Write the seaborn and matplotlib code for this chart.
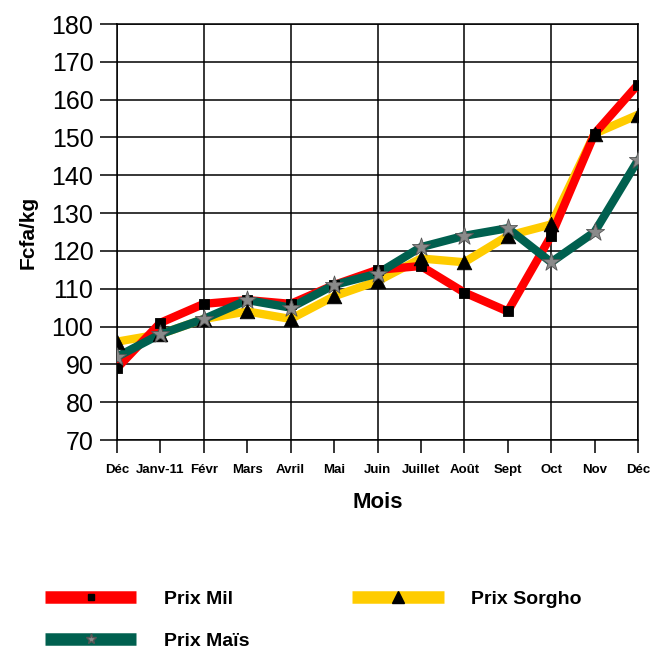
import pandas as pd
import matplotlib.pyplot as plt
import seaborn as sns

# Data
mois = ["Déc", "Janv-11", "Févr", "Mars", "Avril", "Mai", "Juin",
        "Juillet", "Août", "Sept", "Oct", "Nov", "Déc"]
prix_mil = [89, 101, 106, 107, 106, 111, 115, 116, 109, 104, 124, 151, 164]
prix_sorgho = [96, 98, 102, 104, 102, 108, 112, 118, 117, 124, 127, 151, 156]
prix_mais = [92, 98, 102, 107, 105, 111, 114, 121, 124, 126, 117, 125, 144]

FONT = ["Liberation Sans", "DejaVu Sans"]

sns.set_style("white")
plt.rcParams["font.family"] = FONT
plt.rcParams["text.color"] = "black"
plt.rcParams["axes.labelcolor"] = "black"
plt.rcParams["xtick.color"] = "black"
plt.rcParams["ytick.color"] = "black"

x = list(range(len(mois)))
series = [
    ("Prix Sorgho", prix_sorgho, "#FFCC00", "^", 110, "black", "black", 2),
    ("Prix Mil", prix_mil, "#FF0000", "s", 45, "black", "black", 3),
    ("Prix Maïs", prix_mais, "#00604F", "*", 190, "#8a8a8a", "#555555", 4),
]

fig = plt.figure(figsize=(6.67, 6.53), dpi=100)
ax = fig.add_axes([117 / 667, 1 - 440 / 653, (638 - 117) / 667, (440 - 24) / 653])

handles = {}
for name, vals, col, mk, size, fc, ec, z in series:
    df = pd.DataFrame({"x": x, "y": vals})
    sns.lineplot(data=df, x="x", y="y", ax=ax, color=col, linewidth=6, zorder=z)
    sns.scatterplot(data=df, x="x", y="y", ax=ax, marker=mk, s=size,
                    color=fc, edgecolor=ec, linewidth=0.6, zorder=6)
    handles[name] = plt.Line2D([], [], color=col, linewidth=9, marker=mk,
                               markersize={"s": 4, "^": 9, "*": 8}[mk],
                               markerfacecolor=fc, markeredgecolor=ec,
                               solid_capstyle="butt")

ax.set_xlim(0, 12)
ax.set_ylim(70, 180)
ax.set_yticks(range(70, 181, 10))
ax.set_xticks(range(0, 13, 2))
ax.set_xticklabels(mois[::2])
ax.set_xticks(range(1, 13, 2), minor=True)
ax.set_xticklabels(mois[1::2], minor=True)

ax.grid(True, which="major", color="black", linewidth=1.1)
ax.set_axisbelow(True)
for sp in ax.spines.values():
    sp.set_visible(True)
    sp.set_color("black")
    sp.set_linewidth(1.1)

ax.tick_params(axis="y", which="major", direction="out", length=12, width=1.1,
               labelsize=18, pad=5, left=True)
ax.tick_params(axis="x", which="both", direction="out", length=9, width=1.1,
               labelsize=9.5, pad=8, bottom=True)
for lab in ax.get_xticklabels(which="both"):
    lab.set_fontweight("bold")

ax.set_xlabel("Mois", fontsize=16, fontweight="bold", labelpad=12)
ax.set_ylabel("Fcfa/kg", fontsize=15, fontweight="bold", labelpad=10)

order = ["Prix Mil", "Prix Maïs", "Prix Sorgho"]
leg = fig.legend([handles[k] for k in order], order, loc="upper left",
                 bbox_to_anchor=(45 / 667, 1 - 590 / 653), ncol=2, frameon=False,
                 borderpad=0, borderaxespad=0, handlelength=4.7, handletextpad=1.4,
                 columnspacing=5.3, labelspacing=1.25,
                 prop={"size": 14, "weight": "bold", "family": FONT})

fig.savefig("out.png", dpi=100)
